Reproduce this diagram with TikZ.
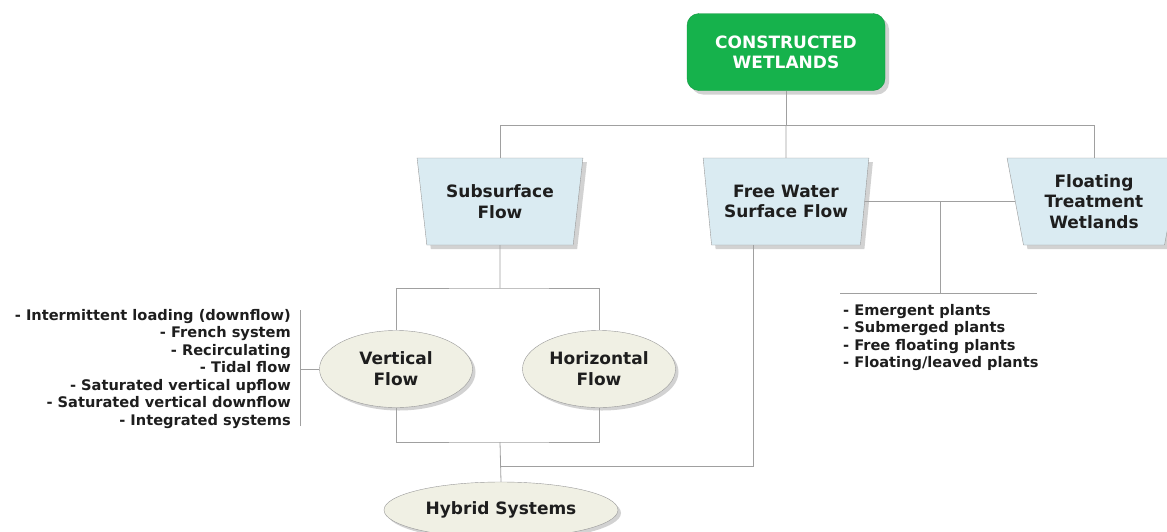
\documentclass[tikz,border=0pt]{standalone}
\usepackage{fontspec}
\setmainfont{DejaVu Sans}
\usetikzlibrary{shapes.geometric,shadows}
\definecolor{cwgreen}{RGB}{22,178,76}
\definecolor{typeblue}{RGB}{218,235,242}
\definecolor{flowcream}{RGB}{240,240,228}
\definecolor{linegray}{RGB}{160,160,160}
\definecolor{textdark}{RGB}{30,30,30}
\tikzset{
  wetland/.style={rounded corners=12pt, fill=cwgreen, draw=cwgreen!85!black, text=white,
    font=\bfseries\fontsize{17}{20}\selectfont, align=center,
    minimum width=198pt, minimum height=77pt, inner sep=0pt,
    drop shadow={shadow xshift=4pt, shadow yshift=-4pt, opacity=0.35}},
  wtype/.style={trapezium, shape border rotate=180, trapezium left angle=78,
    trapezium right angle=78, trapezium stretches=true, fill=typeblue, draw=gray!80,
    text=textdark, font=\bfseries\fontsize{17}{20.5}\selectfont, align=center,
    minimum width=166pt, minimum height=87pt, inner sep=0pt,
    drop shadow={shadow xshift=4pt, shadow yshift=-4pt, opacity=0.35}},
  wflow/.style={ellipse, fill=flowcream, draw=gray!80, text=textdark,
    font=\bfseries\fontsize{17}{21}\selectfont, align=center,
    minimum width=153pt, minimum height=77pt, inner sep=0pt,
    drop shadow={shadow xshift=3pt, shadow yshift=-3pt, opacity=0.35}},
  wlist/.style={text=textdark, font=\bfseries\fontsize{14.6}{17.5}\selectfont, inner sep=0pt},
  wire/.style={draw=linegray, line width=0.8pt}
}
\begin{document}
\begin{tikzpicture}[x=1pt, y=-1pt]
  \useasboundingbox[fill=white] (0,0) rectangle (1167,531);
  % boxes
  \node[wetland] (cw) at (786,52) {CONSTRUCTED\\WETLANDS};
  \node[wtype] (sf) at (500,201.5) {Subsurface\\Flow};
  \node[wtype] (fw) at (786,201.5) {Free Water\\Surface Flow};
  \node[wtype, minimum width=174pt] (ft) at (1094,201.5) {Floating\\Treatment\\Wetlands};
  \node[wflow] (vf) at (396,369) {Vertical\\Flow};
  \node[wflow] (hf) at (599,369) {Horizontal\\Flow};
  \node[wflow, minimum width=234pt, minimum height=56pt] (hs) at (501,510) {Hybrid Systems};
  % lists
  \node[wlist, anchor=east, align=right] (vlist) at (291,369) {%
    - Intermittent loading (downflow)\\- French system\\- Recirculating\\- Tidal flow\\%
    - Saturated vertical upflow\\- Saturated vertical downflow\\- Integrated systems};
  \node[wlist, anchor=north west, align=left] (plist) at (843,304) {%
    - Emergent plants\\- Submerged plants\\- Free floating plants\\- Floating/leaved plants};
  % joints
  \coordinate (top) at (786,125);
  \coordinate (sfj) at (500,288);
  \coordinate (hj) at (500,442);
  \coordinate (fwj) at (500,466);
  \coordinate (pj) at (940,201.5);
  \coordinate (pbar) at (940,293);
  \coordinate (vbar) at (300,369);
  % connectors
  \draw[wire] (cw.south) -- (top);
  \draw[wire] (sf.north) -- (sf.north |- top) -| (ft.north);
  \draw[wire] (top) -- (fw.north);
  \draw[wire] (sf.south) -- (sfj);
  \draw[wire] (vf.north) |- (sfj) -| (hf.north);
  \draw[wire] (vf.south) |- (hj) -| (hf.south);
  \draw[wire] (hj) -- (hs.north);
  \draw[wire] (fwj) -| ([xshift=-33pt]fw.south);
  \draw[wire] (fw.east) -- (ft.west);
  \draw[wire] (pj) -- (pbar);
  \draw[wire] ([xshift=-100pt]pbar) -- ([xshift=97pt]pbar);
  \draw[wire] (vbar) -- (vf.west);
  \draw[wire] ([yshift=-57pt]vbar) -- ([yshift=59pt]vbar);
\end{tikzpicture}
\end{document}
